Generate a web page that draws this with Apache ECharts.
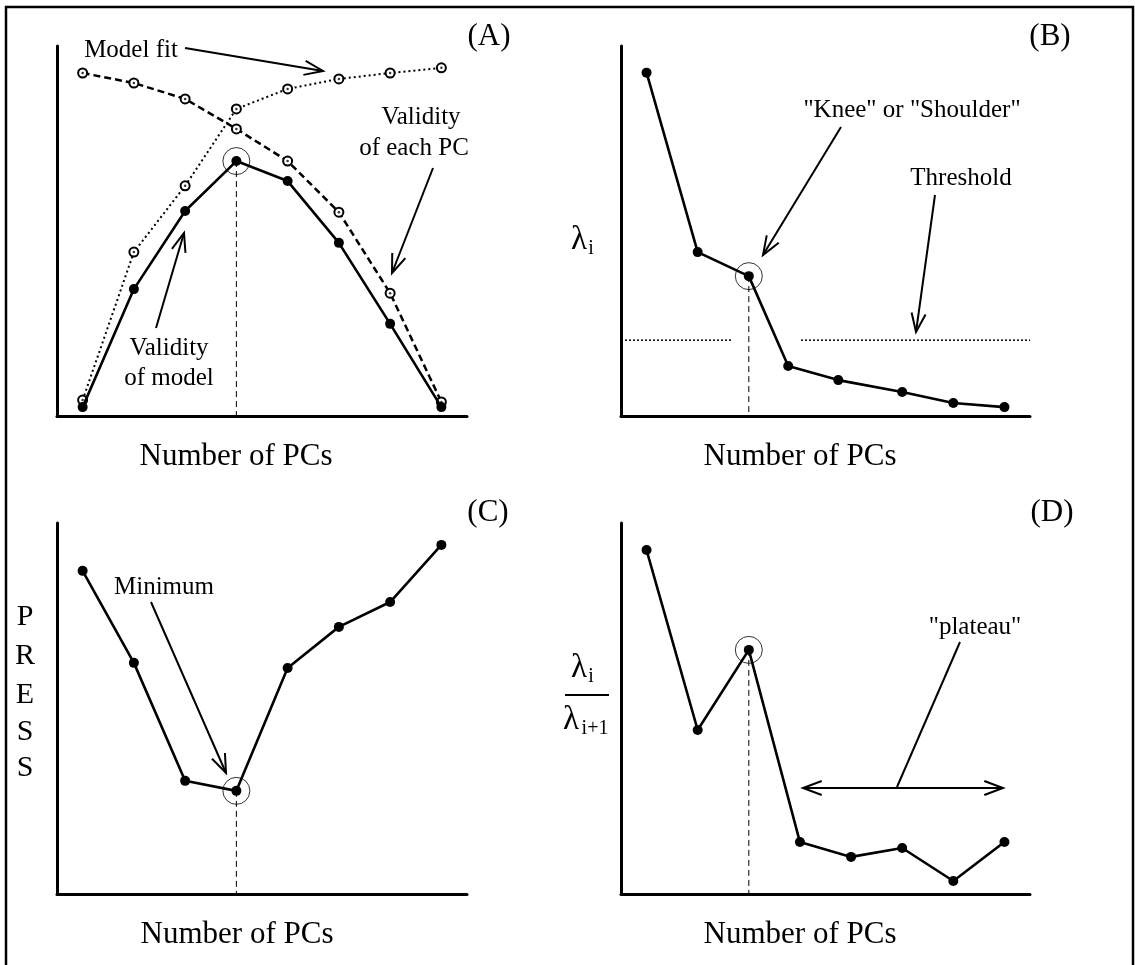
<!DOCTYPE html>
<html><head><meta charset="utf-8">
<script src="https://cdn.jsdelivr.net/npm/echarts@6/dist/echarts.min.js"></script>
<style>html,body{margin:0;padding:0;background:#fff}#c{width:1135px;height:965px}</style>
</head><body><div id="c"></div>
<script>
// ---------- data ----------
const pcsA = [1, 2, 3, 4, 5, 6, 7, 8];
const validityModel = [2.4, 34.3, 55.4, 68.9, 63.5, 46.8, 24.9, 2.4];
const validityEachPC = [92.7, 90.0, 85.7, 77.6, 68.9, 55.1, 33.2, 3.8];
const modelFit = [4.3, 44.3, 62.2, 83.0, 88.4, 91.1, 92.7, 94.1];

const pcsB = [1, 2, 3, 3.77, 4.75, 6, 7, 8];
const eigenvalues = [92.8, 44.3, 37.8, 13.5, 9.7, 6.5, 3.5, 2.4];
const threshold = 20.5;
const thresholdGap = [2.69, 4.02];

const pcsC = [1, 2, 3, 4, 5, 6, 7, 8];
const press = [87.1, 62.3, 30.5, 27.8, 60.9, 72.0, 78.7, 94.1];

const pcsD = [1, 2, 3, 4, 5, 6, 7, 8];
const eigenRatio = [92.7, 44.2, 65.8, 14.0, 10.0, 12.4, 3.5, 14.0];

const chosenA = 3, chosenB = 2, chosenC = 3, chosenD = 2;

// ---------- helpers ----------
const FONT = '"Liberation Serif", "Times New Roman", serif';
const pairs = (xs, ys) => xs.map((x, i) => [x, ys[i]]);
const BLACK = '#000';

function solid(idx, xs, ys) {
  return { type: 'line', xAxisIndex: idx, yAxisIndex: idx, data: pairs(xs, ys),
    symbol: 'circle', symbolSize: 10, itemStyle: { color: BLACK },
    lineStyle: { color: BLACK, width: 2.6 }, z: 5, silent: true };
}
function openLine(idx, xs, ys, dash, w) {
  return { type: 'line', xAxisIndex: idx, yAxisIndex: idx, data: pairs(xs, ys),
    symbol: 'emptyCircle', symbolSize: 9, itemStyle: { color: BLACK, borderWidth: 1.4 },
    lineStyle: { color: BLACK, width: w, type: dash }, z: 3, silent: true };
}
function innerDots(idx, xs, ys) {
  return { type: 'scatter', xAxisIndex: idx, yAxisIndex: idx, data: pairs(xs, ys),
    symbol: 'circle', symbolSize: 2.5, itemStyle: { color: BLACK }, z: 4, silent: true };
}
function dropLine(idx, x, y) {
  return { type: 'line', xAxisIndex: idx, yAxisIndex: idx, data: [[x, y], [x, 0]],
    symbol: 'none', lineStyle: { color: BLACK, width: 1, type: [6, 4] }, z: 2, silent: true };
}
function ring(idx, x, y) {
  return { type: 'scatter', xAxisIndex: idx, yAxisIndex: idx, data: [[x, y]],
    symbol: 'circle', symbolSize: 27,
    itemStyle: { color: 'rgba(0,0,0,0)', borderColor: BLACK, borderWidth: 1 }, z: 6, silent: true };
}

const grids = [
  { left: 57, top: 46, width: 410, height: 370 },
  { left: 621, top: 46, width: 409, height: 370 },
  { left: 57, top: 523, width: 410, height: 371 },
  { left: 621, top: 523, width: 409, height: 371 }
];
const axisCommon = { axisTick: { show: false }, axisLabel: { show: false }, splitLine: { show: false },
  axisLine: { show: true, onZero: false, lineStyle: { color: BLACK, width: 3 } } };
const xAxes = grids.map((g, i) => Object.assign({ type: 'value', gridIndex: i, min: 0.5, max: 8.5 }, axisCommon));
const yAxes = grids.map((g, i) => Object.assign({ type: 'value', gridIndex: i, min: 0, max: 100 }, axisCommon));

function txt(s, x, y, size, extra) {
  return Object.assign({ type: 'text', x: x, y: y, silent: true,
    style: { text: s, font: size + 'px ' + FONT, fill: BLACK,
      textAlign: 'center', textVerticalAlign: 'middle', align: 'center', verticalAlign: 'middle' } }, extra || {});
}
function seg(x1, y1, x2, y2, w) {
  return { type: 'line', silent: true, shape: { x1, y1, x2, y2 }, style: { stroke: BLACK, lineWidth: w || 2 } };
}
function head(x1, y1, x2, y2) {
  const a = Math.atan2(y2 - y1, x2 - x1), L = 20, p = 0.36;
  return { type: 'polyline', silent: true,
    shape: { points: [[x2 - L * Math.cos(a - p), y2 - L * Math.sin(a - p)], [x2, y2],
                      [x2 - L * Math.cos(a + p), y2 - L * Math.sin(a + p)]] },
    style: { stroke: BLACK, lineWidth: 2, fill: 'none' } };
}
function arrow(x1, y1, x2, y2, both) {
  const out = [seg(x1, y1, x2, y2, 2), head(x1, y1, x2, y2)];
  if (both) out.push(head(x2, y2, x1, y1));
  return out;
}

const graphics = [
  { type: 'rect', silent: true, shape: { x: 6, y: 7, width: 1127, height: 962 },
    style: { fill: 'none', stroke: BLACK, lineWidth: 2.5 } },
  // panel labels
  txt('(A)', 489, 37, 31), txt('(B)', 1050, 37, 31), txt('(C)', 488, 513, 31), txt('(D)', 1052, 513, 31),
  // x-axis titles
  txt('Number of PCs', 236, 457, 31), txt('Number of PCs', 800, 457, 31),
  txt('Number of PCs', 237, 935, 31), txt('Number of PCs', 800, 935, 31),
  // panel A annotations
  txt('Model fit', 131, 50, 25),
  txt('Validity', 421, 117, 25), txt('of each PC', 414, 148, 25),
  txt('Validity', 169, 348, 25), txt('of model', 169, 378, 25),
  ...arrow(185, 48, 323, 71), ...arrow(433, 168, 392, 273), ...arrow(156, 328, 184, 233),
  // panel B
  txt('λ', 579, 240, 33), txt('i', 591, 249, 20),
  txt('"Knee" or "Shoulder"', 912, 110, 25), ...arrow(841, 127, 763, 255),
  txt('Threshold', 961, 178, 25), ...arrow(935, 195, 916, 332),
  // panel C
  txt('P', 25, 617, 30), txt('R', 25, 656, 30), txt('E', 25, 695, 30), txt('S', 25, 732, 30), txt('S', 25, 768, 30),
  txt('Minimum', 164, 587, 25), ...arrow(151, 602, 226, 773),
  // panel D
  txt('λ', 579, 668, 33), txt('i', 591, 677, 20), seg(565, 695, 609, 695, 2),
  txt('λ', 571, 720, 33), txt('i+1', 595, 729, 20),
  txt('"plateau"', 975, 627, 25), seg(960, 642, 897, 787, 2), ...arrow(803, 788, 1003, 788, true)
];

const series = [
  // A
  openLine(0, pcsA, modelFit, [2, 3], 2),
  openLine(0, pcsA, validityEachPC, [7, 4], 2.5),
  innerDots(0, pcsA, modelFit), innerDots(0, pcsA, validityEachPC),
  dropLine(0, pcsA[chosenA], validityModel[chosenA]),
  solid(0, pcsA, validityModel),
  ring(0, pcsA[chosenA], validityModel[chosenA]),
  // B
  { type: 'line', xAxisIndex: 1, yAxisIndex: 1, data: [[0.5, threshold], [thresholdGap[0], threshold]],
    symbol: 'none', lineStyle: { color: BLACK, width: 1.5, type: [2, 2] }, silent: true },
  { type: 'line', xAxisIndex: 1, yAxisIndex: 1, data: [[thresholdGap[1], threshold], [8.5, threshold]],
    symbol: 'none', lineStyle: { color: BLACK, width: 1.5, type: [2, 2] }, silent: true },
  dropLine(1, pcsB[chosenB], eigenvalues[chosenB]),
  solid(1, pcsB, eigenvalues),
  ring(1, pcsB[chosenB], eigenvalues[chosenB]),
  // C
  dropLine(2, pcsC[chosenC], press[chosenC]),
  solid(2, pcsC, press),
  ring(2, pcsC[chosenC], press[chosenC]),
  // D
  dropLine(3, pcsD[chosenD], eigenRatio[chosenD]),
  solid(3, pcsD, eigenRatio),
  ring(3, pcsD[chosenD], eigenRatio[chosenD])
];

const chart = echarts.init(document.getElementById('c'), null, { renderer: 'canvas' });
chart.setOption({
  animation: false,
  backgroundColor: '#fff',
  grid: grids,
  xAxis: xAxes,
  yAxis: yAxes,
  series: series,
  graphic: { elements: graphics }
});
</script>
</body></html>
